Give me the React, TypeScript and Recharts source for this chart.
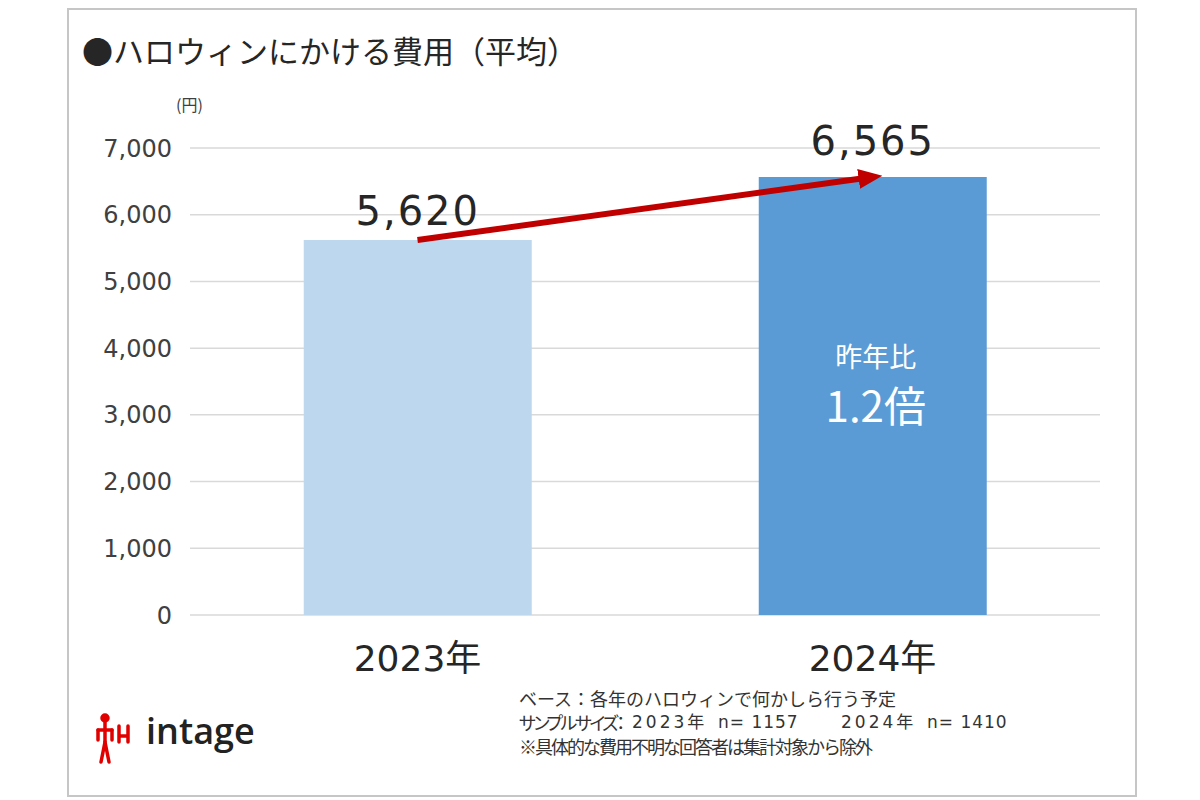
import {
  ComposedChart,
  Bar,
  Line,
  XAxis,
  YAxis,
  CartesianGrid,
  Cell,
  LabelList,
} from "recharts";

const years = ["2023年", "2024年"];
const costs = [5620, 6565];
const sampleN = [1157, 1410];
const barColors = ["#BDD7EE", "#5B9BD5"];
const yTicks = [0, 1000, 2000, 3000, 4000, 5000, 6000, 7000];
const ratioLines = ["昨年比", "1.2倍"];
const title = "●ハロウィンにかける費用（平均）";
const unitLabel = "(円)";
const baseNote = "ベース：各年のハロウィンで何かしら行う予定";
const sampleHead = "サンプルサイズ：";
const exclusionNote = "※具体的な費用不明な回答者は集計対象から除外";

const data = years.map((year, i) => ({ year, cost: costs[i] }));

const FONT = "'Noto Sans CJK JP', 'Noto Sans', sans-serif";
const NUM_FONT = "'DejaVu Sans', 'Noto Sans CJK JP', sans-serif";
const fmt = (v: number) => v.toLocaleString("en-US");

// value above each bar
const ValueLabel = (props: any) => {
  const { x, y, width, value, index } = props;
  const off = index === 0 ? 15 : 22;
  return (
    <text
      x={x + width / 2}
      y={y - off}
      textAnchor="middle"
      fontSize={40}
      letterSpacing={2}
      fill="#262626"
      fontFamily={NUM_FONT}
    >
      {fmt(value)}
    </text>
  );
};

// "昨年比 1.2倍" inside the 2024 bar
const RatioLabel = (props: any) => {
  const { x, y, width, index } = props;
  if (index !== 1) return null;
  const cx = x + width / 2 + 3;
  return (
    <g fontFamily={FONT} fill="#ffffff" textAnchor="middle">
      <text x={cx} y={y + 190} fontSize={27}>
        {ratioLines[0]}
      </text>
      <text x={cx} y={y + 245} fontSize={42}>
        {ratioLines[1]}
      </text>
    </g>
  );
};

export default function App() {
  return (
    <div
      style={{
        position: "absolute",
        left: 0,
        top: 0,
        width: 1200,
        height: 800,
        background: "#fff",
        fontFamily: FONT,
        overflow: "hidden",
      }}
    >
      <svg width={0} height={0} style={{ position: "absolute" }}>
        <defs>
          <marker
            id="arrowHead"
            markerWidth={24}
            markerHeight={20}
            refX={14}
            refY={10}
            orient="auto"
            markerUnits="userSpaceOnUse"
          >
            <path d="M0,0 L24,10 L0,20 Z" fill="#C00000" />
          </marker>
        </defs>
      </svg>

      <div
        style={{
          position: "absolute",
          left: 67,
          top: 8,
          width: 1066,
          height: 785,
          border: "2px solid #c6c6c6",
        }}
      />

      <div
        style={{
          position: "absolute",
          left: 82,
          top: 27,
          fontSize: 31,
          color: "#262626",
          whiteSpace: "nowrap",
        }}
      >
        {title}
      </div>
      <div
        style={{
          position: "absolute",
          left: 176,
          top: 92,
          fontSize: 16,
          color: "#404040",
        }}
      >
        {unitLabel}
      </div>

      <div style={{ position: "absolute", left: 0, top: 0 }}>
        <ComposedChart
          width={1200}
          height={800}
          data={data}
          margin={{ top: 148, right: 100, left: 80, bottom: 0 }}
          barCategoryGap="25%"
        >
          <CartesianGrid vertical={false} stroke="#d9d9d9" strokeWidth={1.5} />
          <XAxis
            dataKey="year"
            axisLine={false}
            tickLine={false}
            tickSize={0}
            tickMargin={30}
            tick={{ fontSize: 36, fill: "#262626", fontFamily: NUM_FONT }}
            height={185}
          />
          <YAxis
            width={110}
            domain={[0, 7000]}
            ticks={yTicks}
            axisLine={false}
            tickLine={false}
            tickSize={0}
            tickMargin={18}
            tickFormatter={fmt}
            tick={{ fontSize: 24, fill: "#404040", fontFamily: NUM_FONT }}
          />
          <Bar dataKey="cost" isAnimationActive={false}>
            {data.map((d, i) => (
              <Cell key={d.year} fill={barColors[i]} />
            ))}
            <LabelList dataKey="cost" content={ValueLabel} />
            <LabelList dataKey="cost" content={RatioLabel} />
          </Bar>
          <Line
            dataKey="cost"
            type="linear"
            stroke="#C00000"
            strokeWidth={6}
            dot={false}
            activeDot={false}
            markerEnd="url(#arrowHead)"
            isAnimationActive={false}
          />
        </ComposedChart>
      </div>

      {/* logo */}
      <svg
        width={36}
        height={56}
        style={{ position: "absolute", left: 96, top: 712 }}
      >
        <g stroke="#e00000" strokeWidth={3.5} fill="none" strokeLinecap="round">
          <circle cx={9} cy={6} r={3} fill="#e00000" />
          <path d="M9,9 L9,30" />
          <path d="M2,18 L16,18" />
          <path d="M2,18 L2,28 M16,18 L16,28" />
          <path d="M9,30 L5,50 M9,30 L13,50" />
          <path d="M23,14 L23,30 M32,14 L32,30 M23,24 L32,24" />
        </g>
      </svg>
      <div
        style={{
          position: "absolute",
          left: 146,
          top: 706,
          fontSize: 36,
          fontWeight: 600,
          color: "#222",
          fontFamily: "'Open Sans', sans-serif",
        }}
      >
        intage
      </div>

      <div
        style={{
          position: "absolute",
          left: 519,
          top: 686,
          width: 560,
          fontSize: 18,
          lineHeight: "24px",
          color: "#333",
          whiteSpace: "nowrap",
        }}
      >
        <div>{baseNote}</div>
        <div style={{ position: "relative", height: 24 }}>
          <span
            style={{
              position: "absolute",
              left: 0,
              fontFeatureSettings: "'palt'",
              letterSpacing: -2.5,
            }}
          >
            {sampleHead}
          </span>
          {years.map((y, i) => (
            <span key={y} style={{ fontFamily: NUM_FONT, fontSize: 17 }}>
              <span style={{ position: "absolute", left: 113 + i * 209, letterSpacing: 3 }}>
                {y}
              </span>
              <span style={{ position: "absolute", left: 199 + i * 209, letterSpacing: 1 }}>
                {`n= ${sampleN[i]}`}
              </span>
            </span>
          ))}
        </div>
        <div style={{ letterSpacing: -2 }}>{exclusionNote}</div>
      </div>
    </div>
  );
}
